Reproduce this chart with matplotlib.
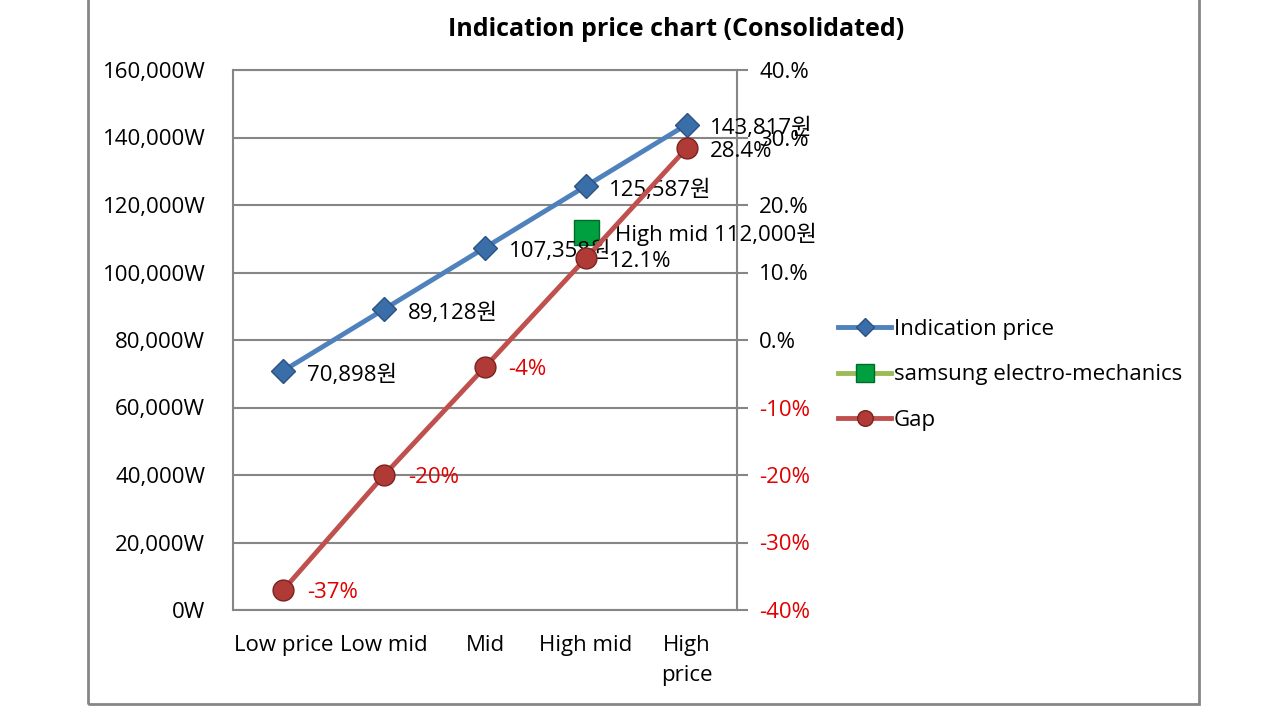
import matplotlib.pyplot as plt
from matplotlib.patches import Rectangle
from matplotlib.ticker import FuncFormatter

plt.rcParams['font.family'] = ['Open Sans', 'Noto Sans CJK KR', 'DejaVu Sans']

categories = ['Low price', 'Low mid', 'Mid', 'High mid', 'High\nprice']
indication_price = [70898, 89128, 107358, 125587, 143817]
gap = [-37, -20, -4, 12.1, 28.4]
gap_labels = ['-37%', '-20%', '-4%', '12.1%', '28.4%']
samsung_idx = 3
samsung_price = 112000

pct_ticks = [40, 30, 20, 10, 0, -10, -20, -30, -40]

blue = '#4F81BD'
red = '#C0504D'
green = '#9BBB59'
grey = '#868686'
neg_red = '#E00000'

fig = plt.figure(figsize=(12.8, 7.2), dpi=100)
# outer chart frame (top edge is cut off in the reference)
fig.patches.append(Rectangle((88 / 1280, 16 / 720), (1199 - 88) / 1280, 1.0,
                             transform=fig.transFigure, fill=False,
                             edgecolor=grey, linewidth=2))

ax = fig.add_axes([233 / 1280, 1 - 610 / 720, 504 / 1280, 540 / 720])
ax2 = ax.twinx()
x = list(range(len(categories)))

ax.set_xlim(-0.5, len(categories) - 0.5)
ax.set_ylim(0, 160000)
ax.set_yticks(range(0, 160001, 20000))
ax.yaxis.set_major_formatter(FuncFormatter(lambda v, p: f'{int(v):,}W'))
ax.grid(axis='y', color=grey, linewidth=1.5)
ax.set_axisbelow(True)
ax.set_xticks(x)
ax.set_xticklabels(categories, fontsize=16, linespacing=1.55)
ax.tick_params(axis='x', length=0, pad=18)
ax.tick_params(axis='y', length=0, labelsize=16, pad=20)
for s in ax.spines.values():
    s.set_color(grey)
    s.set_linewidth(1.5)

ax2.set_ylim(-40, 40)
ax2.set_yticks(pct_ticks)
ax2.set_yticklabels([f'{t}.%' if t >= 0 else f'{t}%' for t in pct_ticks], fontsize=16)
for lab, t in zip(ax2.get_yticklabels(), pct_ticks):
    lab.set_color(neg_red if t < 0 else 'black')
ax2.tick_params(axis='y', length=8, width=1.5, color=grey, pad=8)
for s in ax2.spines.values():
    s.set_visible(False)

l1, = ax.plot(x, indication_price, color=blue, linewidth=3.5, marker='D',
              markersize=12, markerfacecolor='#3A6EA8', markeredgecolor='#2B5283',
              zorder=4, label='Indication price')
l2, = ax.plot([samsung_idx], [samsung_price], color=green, linewidth=3.5, marker='s',
              markersize=18, markerfacecolor='#00A040', markeredgecolor='#006B2B',
              zorder=5, label='samsung electro-mechanics')
l3, = ax2.plot(x, gap, color=red, linewidth=3.5, marker='o', markersize=15,
               markerfacecolor='#B03A36', markeredgecolor='#7A2220',
               zorder=4, label='Gap')

for xi, v in zip(x, indication_price):
    ax.annotate(f'{v:,}원', (xi, v), xytext=(17, -3), textcoords='offset points',
                fontsize=16, va='center', ha='left', zorder=6)
for xi, v, t in zip(x, gap, gap_labels):
    ax2.annotate(t, (xi, v), xytext=(17, -2), textcoords='offset points',
                 fontsize=16, va='center', ha='left',
                 color=neg_red if v < 0 else 'black', zorder=6)
ax.annotate(f'High mid {samsung_price:,}원', (samsung_idx, samsung_price),
            xytext=(21, -2), textcoords='offset points', fontsize=16,
            va='center', ha='left', zorder=6)

fig.legend(handles=[l1, l2, l3], loc='upper left',
           bbox_to_anchor=(818 / 1280, 1 - 299 / 720),
           frameon=False, fontsize=16, handlelength=2.4, handletextpad=0.1,
           labelspacing=1.1, markerscale=0.75)

fig.text(676 / 1280, 1 - 29 / 720, 'Indication price chart (Consolidated)',
         ha='center', va='center', fontsize=18, fontweight='bold')

fig.savefig('out.png', dpi=100)
